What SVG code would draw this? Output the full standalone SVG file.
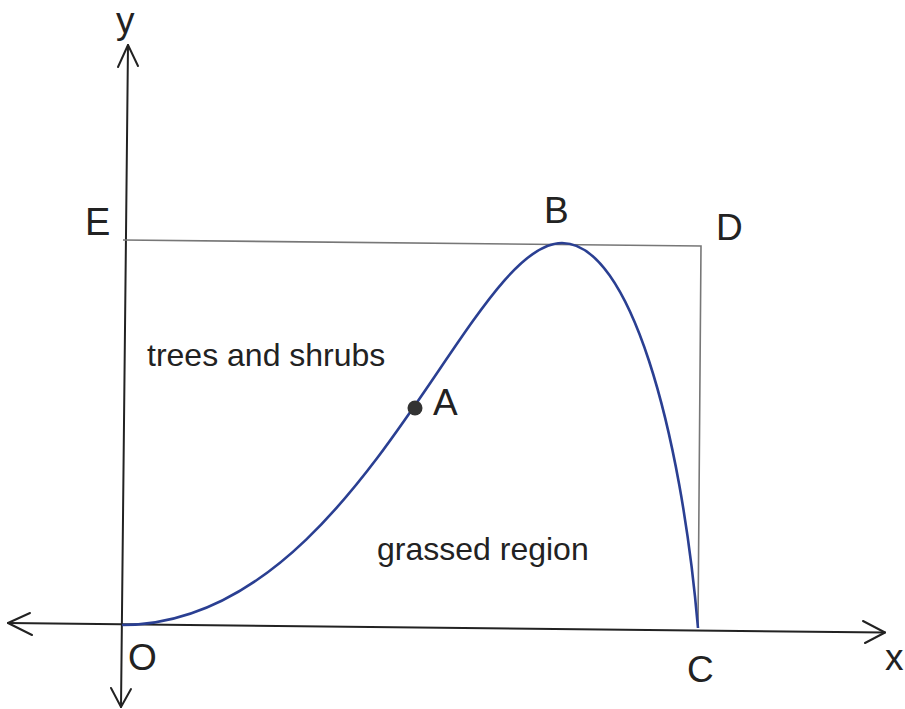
<svg xmlns="http://www.w3.org/2000/svg" width="905" height="709" viewBox="0 0 905 709">
<style>
.ax{fill:none;stroke:#222;stroke-width:2;stroke-linecap:round;stroke-linejoin:round}
.rect{fill:none;stroke:#777;stroke-width:1.6}
.curve{fill:none;stroke:#2a3f92;stroke-width:2.6}
.lbl{font-family:"Liberation Sans",Arial,sans-serif;fill:#222;font-size:37px}
.txt{font-family:"Liberation Sans",Arial,sans-serif;fill:#222;font-size:32px}
</style>
<rect width="905" height="709" fill="#fff"/>
<g id="axes">
<path class="ax" d="M128,45 L121,707"/>
<path class="ax" d="M118,67 L128,45 L138,66"/>
<path class="ax" d="M111,688 L121,707 L131,689"/>
<path class="ax" d="M8,623 L885,632.5"/>
<path class="ax" d="M30,613 L8,623 L32,635"/>
<path class="ax" d="M863,621 L885,632.5 L865,643"/>
</g>
<g id="rectangle">
<path class="rect" d="M123,240 L701,246 L698,628"/>
</g>
<g id="curve">
<path class="curve" d="M122,625 C358,625 467,243 562,243 C630,243 681,430 698,628"/>
</g>
<g id="point-A">
<circle cx="415" cy="408" r="7.5" fill="#333"/>
<text class="lbl" x="433" y="415">A</text>
</g>
<g id="labels">
<text class="lbl" x="116" y="33">y</text>
<text class="lbl" x="885" y="670">x</text>
<text class="lbl" x="128" y="670">O</text>
<text class="lbl" x="687" y="682">C</text>
<text class="lbl" x="85" y="235" style="font-size:38px">E</text>
<text class="lbl" x="544" y="223">B</text>
<text class="lbl" x="716" y="240">D</text>
<text class="txt" x="147" y="366">trees and shrubs</text>
<text class="txt" x="377" y="560">grassed region</text>
</g>
</svg>
